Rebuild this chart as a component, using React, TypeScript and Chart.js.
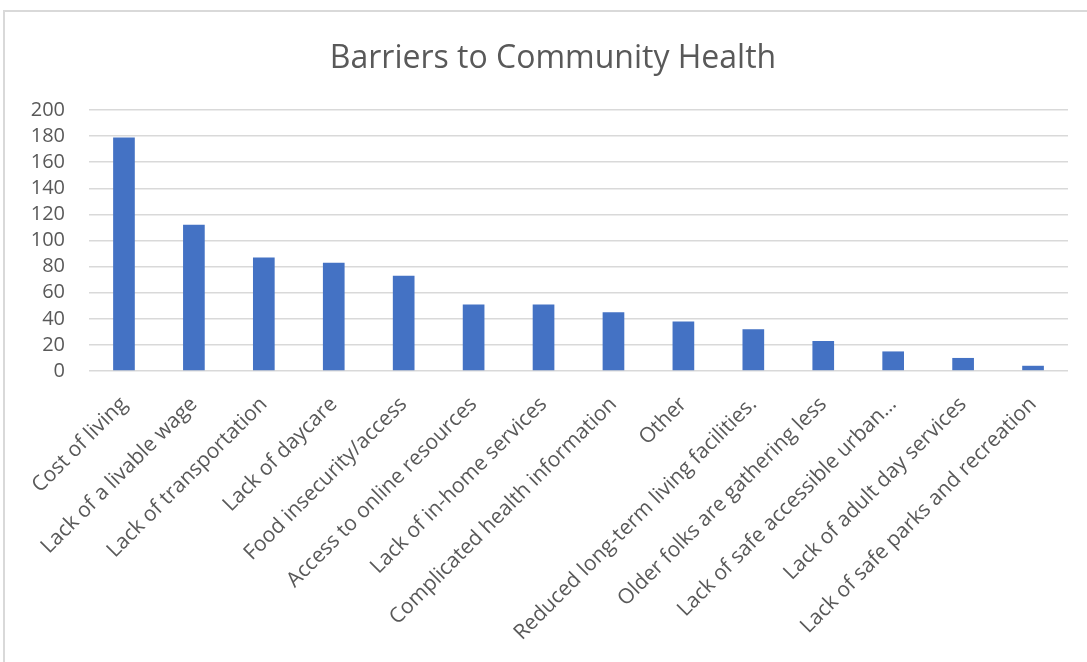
import React, { useEffect, useRef } from "react";
import { Chart, registerables } from "chart.js";

Chart.register(...registerables);

const title = "Barriers to Community Health";
const categories = [
  "Cost of living",
  "Lack of a livable wage",
  "Lack of transportation",
  "Lack of daycare",
  "Food insecurity/access",
  "Access to online resources",
  "Lack of in-home services",
  "Complicated health information",
  "Other",
  "Reduced long-term living facilities.",
  "Older folks are gathering less",
  "Lack of safe accessible urban…",
  "Lack of adult day services",
  "Lack of safe parks and recreation",
];
const values = [179, 112, 87, 83, 73, 51, 51, 45, 38, 32, 23, 15, 10, 4];
const yTicks = [0, 20, 40, 60, 80, 100, 120, 140, 160, 180, 200];

const W = 1087;
const H = 662;
const FONT = "'Open Sans', 'Noto Sans', sans-serif";
const TEXT = "#595959";

const titleShift = {
  id: "titleShift",
  afterLayout(chart: any) {
    const t = chart.titleBlock;
    if (t) t.left = 38;
  },
};

export default function App() {
  const ref = useRef<HTMLCanvasElement>(null);
  useEffect(() => {
    const canvas = ref.current;
    if (!canvas) return;
    const chart = new Chart(canvas, {
      type: "bar",
      plugins: [titleShift],
      data: {
        labels: categories,
        datasets: [
          {
            label: "Count",
            data: values,
            backgroundColor: "#4472C4",
            borderWidth: 0,
            barPercentage: 0.31,
            categoryPercentage: 1,
          },
        ],
      },
      options: {
        responsive: false,
        animation: false,
        devicePixelRatio: 1,
        layout: { padding: { left: 0, right: 19, top: 0, bottom: 0 } },
        plugins: {
          legend: { display: false },
          tooltip: { enabled: false },
          title: {
            display: true,
            text: title,
            color: TEXT,
            font: { family: FONT, size: 32, weight: "normal", lineHeight: 1.2 },
            padding: { top: 40, bottom: 31.6 },
          },
        },
        scales: {
          x: {
            offset: true,
            grid: { display: false, drawTicks: false },
            border: { display: false },
            ticks: {
              autoSkip: false,
              maxRotation: 45,
              minRotation: 45,
              padding: 21,
              color: TEXT,
              font: { family: FONT, size: 21 },
            },
            afterFit: (scale: any) => {
              scale.height = H - 371;
            },
          },
          y: {
            min: 0,
            max: 200,
            afterBuildTicks: (scale: any) => {
              scale.ticks = yTicks.map((v) => ({ value: v }));
            },
            grid: { color: "#d9d9d9", lineWidth: 1.6, drawTicks: false },
            border: { display: false },
            ticks: {
              autoSkip: false,
              padding: 24,
              color: TEXT,
              font: { family: FONT, size: 20 },
            },
            afterFit: (scale: any) => {
              scale.width = 89;
            },
          },
        },
      },
    });
    return () => chart.destroy();
  }, []);

  return (
    <div
      style={{
        position: "fixed",
        left: 0,
        top: 0,
        width: W,
        height: H,
        overflow: "hidden",
        background: "#ffffff",
      }}
    >
      <div
        style={{
          position: "absolute",
          left: 3,
          top: 10,
          width: 1200,
          height: 800,
          borderLeft: "2px solid #d9d9d9",
          borderTop: "2px solid #d9d9d9",
        }}
      />
      <canvas
        ref={ref}
        width={W}
        height={H}
        style={{ position: "absolute", left: 0, top: 0, width: W, height: H }}
      />
    </div>
  );
}
